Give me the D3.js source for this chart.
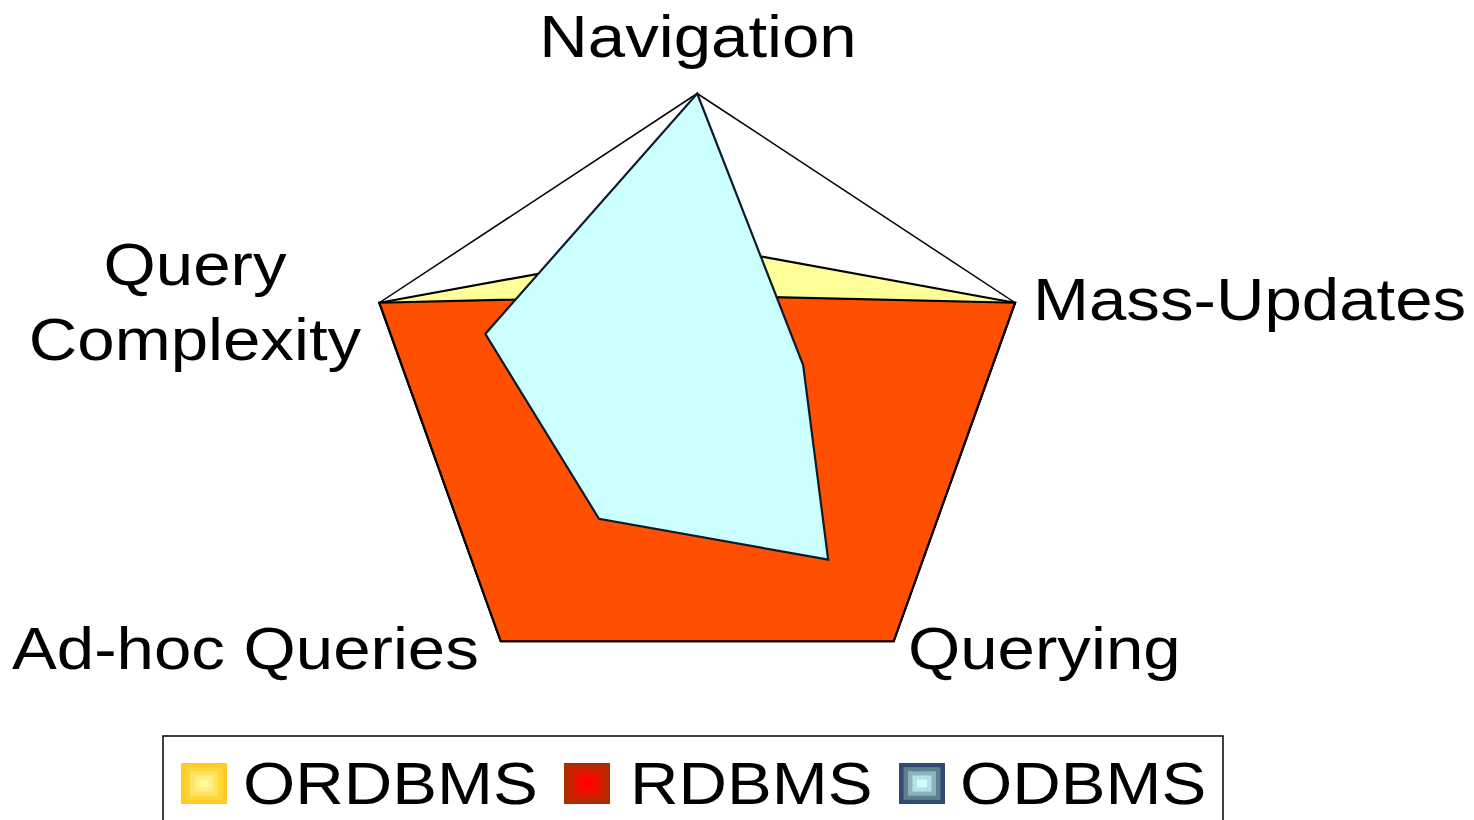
<!DOCTYPE html>
<html>
<head>
<meta charset="utf-8">
<script src="https://cdn.jsdelivr.net/npm/d3@7"></script>
<style>
  html, body { margin: 0; padding: 0; background: #fff; }
  svg { display: block; }
  text { font-family: "Liberation Sans", Arial, sans-serif; fill: #000; }
</style>
</head>
<body>
<svg id="chart" width="1474" height="820"></svg>
<script>
// ---- data ----
const categories = ["Navigation", "Mass-Updates", "Querying", "Ad-hoc Queries", "Query Complexity"];
const seriesNames = ["ORDBMS", "RDBMS", "ODBMS"];
const ordbmsValues = [3, 6, 6, 6, 6];
const rdbmsValues  = [2, 6, 6, 6, 6];
const odbmsValues  = [6, 2, 4, 3, 4];
const maxValue = 6;

// ---- layout ----
const W = 1474, H = 820;
const cx = 697.2, cy = 396.3;
const Ry = 302.8, kx = 334.2 / 302.8; // chart is stretched horizontally
const fontSize = 60, textSX = 1.12;

const svg = d3.select("#chart");
const r = d3.scaleLinear().domain([0, maxValue]).range([0, Ry]);
const angle = d3.scalePoint().domain(categories).range([0, 2 * Math.PI * (categories.length - 1) / categories.length]);

function pt(cat, v) {
  const a = angle(cat);
  return [cx + r(v) * Math.sin(a) * kx, cy - r(v) * Math.cos(a)];
}
const line = d3.line();

// outer gridline (max)
svg.append("path")
  .attr("d", line(categories.map(c => pt(c, maxValue))) + "Z")
  .attr("fill", "#fff")
  .attr("stroke", "#000")
  .attr("stroke-width", 1.5);

const series = [
  { name: "ORDBMS", values: ordbmsValues, fill: "#FFFF99", stroke: "#000" },
  { name: "RDBMS",  values: rdbmsValues,  fill: "#FF4F00", stroke: "#000" },
  { name: "ODBMS",  values: odbmsValues,  fill: "#CCFFFF", stroke: "#0b1b30" }
];

svg.append("g").selectAll("path")
  .data(series)
  .join("path")
  .attr("d", s => line(categories.map((c, i) => pt(c, s.values[i]))) + "Z")
  .attr("fill", s => s.fill)
  .attr("stroke", s => s.stroke)
  .attr("stroke-width", 2.2)
  .attr("stroke-linejoin", "miter");

// category labels
const labelPos = {
  "Navigation":      { x: 698,  y: [57],       anchor: "middle" },
  "Mass-Updates":    { x: 1033, y: [319.5],    anchor: "start" },
  "Querying":        { x: 908,  y: [669],      anchor: "start" },
  "Ad-hoc Queries":  { x: 12,   y: [669],      anchor: "start" },
  "Query Complexity":{ x: 195,  y: [285, 360], anchor: "middle" }
};
categories.forEach(c => {
  const p = labelPos[c];
  const lines = p.y.length > 1 ? c.split(" ") : [c];
  lines.forEach((t, i) => {
    svg.append("text")
      .attr("transform", `translate(${p.x},${p.y[i]}) scale(${textSX},1)`)
      .attr("text-anchor", p.anchor)
      .attr("font-size", fontSize)
      .text(t);
  });
});

// legend
svg.append("rect")
  .attr("x", 163).attr("y", 736)
  .attr("width", 1060).attr("height", 120)
  .attr("fill", "#fff")
  .attr("stroke", "#000")
  .attr("stroke-width", 1.5);

const markerColors = {
  "ORDBMS": ["#FFCC22", "#FFD63A", "#FFE260", "#FFEE80", "#FFFA98"],
  "RDBMS":  ["#A83000", "#C82200", "#E01400", "#F50800", "#FF0000"],
  "ODBMS":  ["#2E4B72", "#5E7E94", "#8DB2BA", "#B2E2E4", "#CCFFFF"]
};
const legendItems = [
  { name: "ORDBMS", mx: 181, tx: 243 },
  { name: "RDBMS",  mx: 564, tx: 630 },
  { name: "ODBMS",  mx: 899, tx: 960 }
];
const lg = svg.append("g");
legendItems.forEach(it => {
  const cols = markerColors[it.name];
  const mw = 46, mh = 41, my = 763;
  cols.forEach((col, k) => {
    const inset = k * 4.5;
    lg.append("rect")
      .attr("x", it.mx + inset).attr("y", my + inset * 0.92)
      .attr("width", mw - 2 * inset).attr("height", mh - 2 * inset * 0.92)
      .attr("fill", col);
  });
  lg.append("text")
    .attr("transform", `translate(${it.tx},804) scale(${textSX},1)`)
    .attr("font-size", fontSize)
    .text(it.name);
});
</script>
</body>
</html>
